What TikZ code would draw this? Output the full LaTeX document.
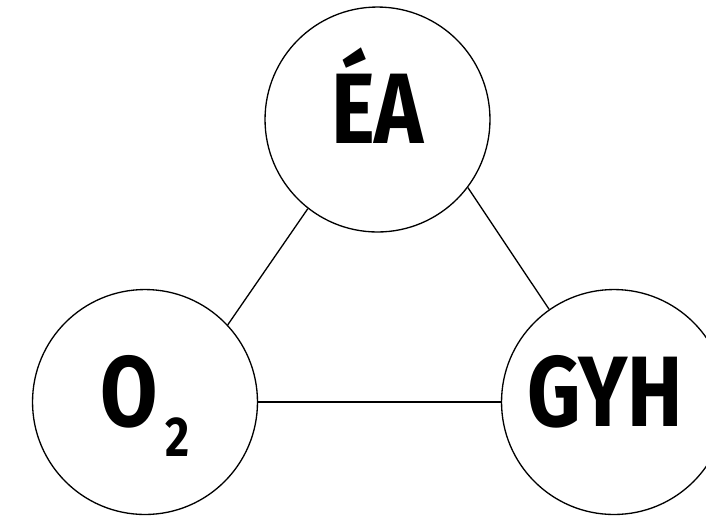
\documentclass[tikz,border=0pt]{standalone}
\usepackage{fontspec}
\setmainfont{Fira Sans}[FakeStretch=0.83]

\begin{document}
\begin{tikzpicture}[
			x = 0.02cm, y = -0.02cm,
			line width = 0.75pt,
			every node/.style = {font=\bfseries\fontsize{57}{64}\selectfont},
			element/.style = {draw, circle, minimum size=4.5cm, inner sep=0pt, text height=0.96cm, text depth=0cm}
			]

			\useasboundingbox (0,0) rectangle (706,515);

			\node[element] (ea) at (377.5,119.5) {ÉA};
			\node[element] (oxy) at (145,402) {O\kern0.15cm\raisebox{-0.6cm}{\fontsize{32}{32}\selectfont 2}};
			\node[element] (gyh) at (614,402) {GYH\kern0.35cm};

			\draw (oxy.43) -- (ea.232);
			\draw (ea.323) -- (gyh.125);
			\draw (oxy) -- (gyh);

		\end{tikzpicture}
\end{document}
